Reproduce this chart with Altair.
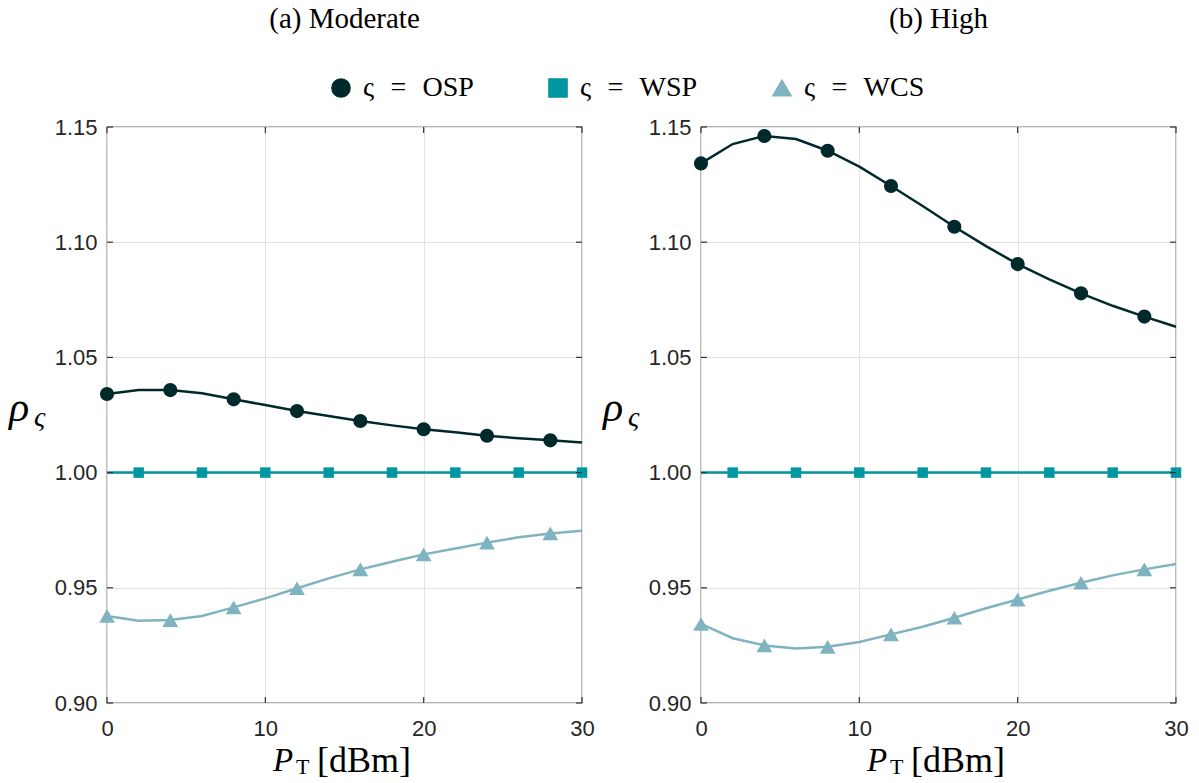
import altair as alt
import pandas as pd

# Transmit power grid (dBm) shared by every curve
p_t = [0, 2, 4, 6, 8, 10, 12, 14, 16, 18, 20, 22, 24, 26, 28, 30]

# (a) Moderate
moderate_osp = [1.0341, 1.0358, 1.0358, 1.0344, 1.0318, 1.0293, 1.0267, 1.0246,
                1.0224, 1.0205, 1.0188, 1.0175, 1.0160, 1.0149, 1.0140, 1.0131]
moderate_wsp = [1.00, 1.00, 1.00, 1.00, 1.00, 1.00, 1.00, 1.00,
                1.00, 1.00, 1.00, 1.00, 1.00, 1.00, 1.00, 1.00]
moderate_wcs = [0.9378, 0.9357, 0.9360, 0.9378, 0.9415, 0.9454, 0.9498, 0.9541,
                0.9580, 0.9613, 0.9645, 0.9671, 0.9696, 0.9719, 0.9736, 0.9748]

# (b) High
high_osp = [1.1342, 1.1426, 1.1461, 1.1448, 1.1397, 1.1328, 1.1244, 1.1157,
            1.1067, 1.0983, 1.0905, 1.0839, 1.0778, 1.0724, 1.0677, 1.0633]
high_wsp = [1.00, 1.00, 1.00, 1.00, 1.00, 1.00, 1.00, 1.00,
            1.00, 1.00, 1.00, 1.00, 1.00, 1.00, 1.00, 1.00]
high_wcs = [0.9343, 0.9281, 0.9250, 0.9237, 0.9244, 0.9265, 0.9298, 0.9331,
            0.9370, 0.9411, 0.9449, 0.9487, 0.9522, 0.9554, 0.9580, 0.9603]

series_names = ["OSP", "WSP", "WCS"]
marker_points = {
    "OSP": [0, 4, 8, 12, 16, 20, 24, 28],
    "WSP": [2, 6, 10, 14, 18, 22, 26, 30],
    "WCS": [0, 4, 8, 12, 16, 20, 24, 28],
}
x_ticks = [0, 10, 20, 30]
y_ticks = [0.90, 0.95, 1.00, 1.05, 1.10, 1.15]
panel_titles = ["(a) Moderate", "(b) High"]

COLORS = ["#00292C", "#0097A0", "#7FB3BF"]
SHAPES = ["circle", "square", "triangle-up"]
MARK_SIZES = {"OSP": 200, "WSP": 110, "WCS": 250}
W, H = 475, 576
SERIF = "Liberation Serif"
SANS = "Liberation Sans"


def long_table(curves):
    rows = []
    for name, values in zip(series_names, curves):
        for p, v in zip(p_t, values):
            rows.append({"p": p, "rho": v, "series": name,
                         "marker": p in marker_points[name]})
    return pd.DataFrame(rows)


x_enc = alt.X("p:Q", scale=alt.Scale(domain=[0, 30], nice=False),
              axis=alt.Axis(values=x_ticks, title=None, labelFont=SANS, labelFontSize=22,
                            labelColor="#262626", labelPadding=15, ticks=False, domain=False,
                            grid=True, gridColor="#e2e2e2", labelFlush=False))
y_enc = alt.Y("rho:Q", scale=alt.Scale(domain=[0.90, 1.15], nice=False, zero=False),
              axis=alt.Axis(values=y_ticks, format=".2f", title=None, labelFont=SANS,
                            labelFontSize=22, labelColor="#262626", labelPadding=10,
                            ticks=False, domain=False, grid=True, gridColor="#e2e2e2"))

# legend labels read "ς = OSP" etc., with math-style spacing round "="
legend = alt.Legend(orient="none", legendX=220, legendY=-53, direction="horizontal",
                    title=None, labelFont=SERIF, labelFontSize=28, labelColor="black",
                    labelExpr="'ς\u2002\u200a=\u2002\u200a' + datum.label", symbolSize=330,
                    labelOffset=8, columnPadding=70, labelLimit=300)
color_scale = alt.Scale(domain=series_names, range=COLORS)
shape_scale = alt.Scale(domain=series_names, range=SHAPES)


def text_layer(txt, x, y, size, italic, align="left"):
    return alt.Chart(pd.DataFrame({"t": [txt]})).mark_text(
        align=align, baseline="alphabetic", font=SERIF, fontSize=size,
        fontStyle="italic" if italic else "normal", color="black"
    ).encode(text="t:N", x=alt.value(x), y=alt.value(y))


def panel(curves, title, show_legend):
    lg = legend if show_legend else None
    df = long_table(curves)
    base = alt.Chart(df)
    lines = base.mark_line(strokeWidth=2.5).encode(
        x=x_enc, y=y_enc,
        color=alt.Color("series:N", scale=color_scale, legend=lg))
    layers = [lines]
    for name in series_names:
        layers.append(
            base.transform_filter(
                (alt.datum.series == name) & alt.datum.marker
            ).mark_point(filled=True, opacity=1, size=MARK_SIZES[name]).encode(
                x=x_enc, y=y_enc,
                color=alt.Color("series:N", scale=color_scale, legend=lg),
                shape=alt.Shape("series:N", scale=shape_scale, legend=lg))
        )
    # inward tick marks on all four sides of the box
    xt = alt.Chart(pd.DataFrame({"p": x_ticks}))
    yt = alt.Chart(pd.DataFrame({"rho": y_ticks}))
    tick_style = dict(color="#333333", strokeWidth=1.2)
    layers += [
        xt.mark_rule(**tick_style).encode(x="p:Q", y=alt.value(H), y2=alt.value(H - 6)),
        xt.mark_rule(**tick_style).encode(x="p:Q", y=alt.value(0), y2=alt.value(6)),
        yt.mark_rule(**tick_style).encode(y="rho:Q", x=alt.value(0), x2=alt.value(6)),
        yt.mark_rule(**tick_style).encode(y="rho:Q", x=alt.value(W), x2=alt.value(W - 6)),
    ]
    # panel caption and axis titles: P_T [dBm] and rho_varsigma
    layers += [
        text_layer(title, W / 2, -99, 29, False, align="center"),
        text_layer("P", 166, 644, 33, True),
        text_layer("T", 189, 647, 22, False),
        text_layer("[dBm]", 210, 645, 36, False),
        text_layer("ρ", -98, 294, 42, True),
        text_layer("ς", -73, 299, 28, True),
    ]
    return alt.layer(*layers).properties(width=W, height=H)


left = panel([moderate_osp, moderate_wsp, moderate_wcs], panel_titles[0], True)
right = panel([high_osp, high_wsp, high_wcs], panel_titles[1], False)

chart = alt.hconcat(left, right, spacing=119, bounds="flush").resolve_legend(
    color="independent", shape="independent"
).properties(
    padding={"left": 8, "top": 4, "right": 10, "bottom": 4},
    background="white",
).configure_view(
    stroke="#6f6f6f", strokeWidth=1.3
).configure_legend(
    labelFont=SERIF, labelFontSize=28, labelColor="black"
)

chart.save("out.html", embed_options={"renderer": "svg", "actions": False})
